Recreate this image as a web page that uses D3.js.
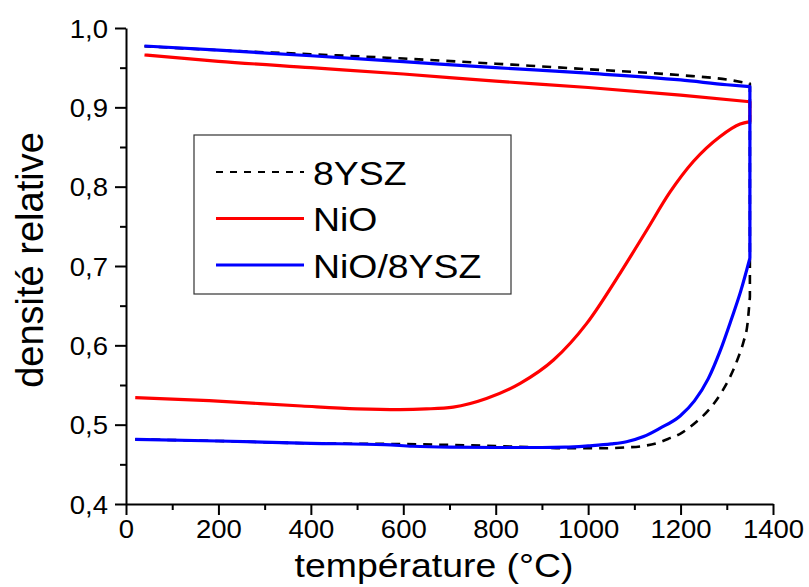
<!DOCTYPE html>
<html><head><meta charset="utf-8">
<script src="https://cdn.jsdelivr.net/npm/d3@7"></script>
<style>
body{margin:0;background:#fff;}
text{font-family:"Liberation Sans",Arial,sans-serif;fill:#000;}
</style></head>
<body><svg id="chart" width="809" height="587"></svg>
<script>
// ---- data ----
const seriesNames = ["8YSZ", "NiO", "NiO/8YSZ"];
const seriesColors = ["#000000", "#ff0000", "#0000ff"];
const xTicks = [0, 200, 400, 600, 800, 1000, 1200, 1400];
const yTicks = [0.4, 0.5, 0.6, 0.7, 0.8, 0.9, 1.0];

// 8YSZ (heating, hold at 1350, cooling)
const yszT = [20, 200, 400, 600, 700, 800, 900, 950, 1030, 1080, 1119, 1150, 1177, 1199, 1235, 1264, 1290, 1307, 1325, 1336, 1345, 1350, 1350, 1350, 1300, 1200, 1000, 800, 600, 400, 200, 40];
const yszD = [0.4815, 0.4794, 0.4765, 0.4755, 0.4745, 0.4730, 0.4712, 0.4703, 0.4702, 0.4712, 0.4731, 0.4770, 0.4830, 0.4885, 0.5040, 0.5206, 0.5420, 0.5600, 0.5850, 0.6040, 0.6280, 0.6610, 0.8000, 0.9300, 0.9350, 0.9405, 0.9480, 0.9550, 0.9615, 0.9670, 0.9720, 0.9770];

// NiO
const nioT = [20, 180, 380, 500, 593, 650, 708, 780, 853, 925, 997, 1069, 1127, 1177, 1228, 1285, 1329, 1350, 1350, 1350, 1200, 1000, 800, 600, 400, 200, 40];
const nioD = [0.5340, 0.5302, 0.5235, 0.5200, 0.5190, 0.5198, 0.5222, 0.5330, 0.5521, 0.5815, 0.6277, 0.6908, 0.7454, 0.7930, 0.8320, 0.8630, 0.8790, 0.8820, 0.8950, 0.9070, 0.9155, 0.9250, 0.9330, 0.9420, 0.9500, 0.9580, 0.9660];

// NiO/8YSZ
const mixT = [20, 200, 400, 560, 620, 700, 800, 900, 950, 1000, 1050, 1083, 1120, 1155, 1199, 1230, 1260, 1285, 1310, 1330, 1350, 1350, 1350, 1300, 1200, 1000, 800, 600, 400, 200, 40];
const mixD = [0.4815, 0.4794, 0.4765, 0.4748, 0.4728, 0.4716, 0.4712, 0.4712, 0.4716, 0.4733, 0.4757, 0.4785, 0.4850, 0.4954, 0.5110, 0.5300, 0.5580, 0.5920, 0.6330, 0.6680, 0.7100, 0.8200, 0.9260, 0.9285, 0.9345, 0.9430, 0.9500, 0.9575, 0.9650, 0.9720, 0.9773];

const series = [
  {name: seriesNames[0], T: yszT, D: yszD, color: seriesColors[0], dash: "9,7"},
  {name: seriesNames[1], T: nioT, D: nioD, color: seriesColors[1], dash: null},
  {name: seriesNames[2], T: mixT, D: mixD, color: seriesColors[2], dash: null}
];

// ---- layout ----
const svg = d3.select("#chart");
const x = d3.scaleLinear().domain([0, 1400]).range([126, 773]);
const y = d3.scaleLinear().domain([0.4, 1.0]).range([504, 28]);
const fmt = d => d3.format(".1f")(d).replace(".", ",");
const SX = 1.1;

// minor ticks
svg.append("g").attr("transform", "translate(0,504)")
  .call(d3.axisBottom(x).tickValues(d3.range(100, 1400, 200)).tickSize(6).tickFormat(""))
  .call(g => g.select(".domain").remove())
  .selectAll("line").attr("stroke-width", 2);
svg.append("g").attr("transform", "translate(126,0)")
  .call(d3.axisLeft(y).tickValues([0.45, 0.55, 0.65, 0.75, 0.85, 0.95]).tickSize(6).tickFormat(""))
  .call(g => g.select(".domain").remove())
  .selectAll("line").attr("stroke-width", 2);

// major axes
const gx = svg.append("g").attr("transform", "translate(0,504)")
  .call(d3.axisBottom(x).tickValues(xTicks).tickSize(11).tickSizeOuter(0).tickFormat(d3.format("d")));
gx.select(".domain").attr("stroke-width", 2);
gx.selectAll("line").attr("stroke-width", 2);
gx.selectAll("text").attr("font-size", 25).attr("y", 0).attr("dy", 0)
  .attr("transform", "translate(0,34) scale(" + SX + ",1)");

const gy = svg.append("g").attr("transform", "translate(126,0)")
  .call(d3.axisLeft(y).tickValues(yTicks).tickSize(11).tickSizeOuter(0).tickFormat(fmt));
gy.select(".domain").attr("stroke-width", 2);
gy.selectAll("line").attr("stroke-width", 2);
gy.selectAll("text").attr("font-size", 25).attr("x", 0).attr("dy", 0)
  .attr("transform", "translate(-18,9) scale(" + SX + ",1)");
svg.selectAll(".tick text").attr("font-family", "Liberation Sans, Arial, sans-serif").attr("fill", "#000");

// lines: heating branch (monotone), hold segment (straight), cooling branch (monotone)
const smooth = d3.line().curve(d3.curveMonotoneX).x(d => x(d[0])).y(d => y(d[1]));
function buildPath(T, D) {
  const pts = T.map((t, i) => [t, D[i]]);
  const maxT = d3.max(T);
  const first = T.indexOf(maxT), last = T.lastIndexOf(maxT);
  const heat = pts.slice(0, first + 1);
  const hold = pts.slice(first, last + 1);
  const cool = pts.slice(last);
  let d = smooth(heat);
  d += hold.slice(1).map(p => "L" + x(p[0]) + "," + y(p[1])).join("");
  d += smooth(cool).replace(/^M[^A-Za-z]*/, "");
  return d;
}
series.forEach(s => {
  svg.append("path")
    .attr("d", buildPath(s.T, s.D))
    .attr("fill", "none")
    .attr("stroke", s.color)
    .attr("stroke-width", s.dash ? 2.6 : 3.2)
    .attr("stroke-dasharray", s.dash)
    .attr("stroke-linejoin", "round");
});

// legend
const lg = svg.append("g");
lg.append("rect").attr("x", 194).attr("y", 135).attr("width", 317).attr("height", 159)
  .attr("fill", "#fff").attr("stroke", "#333").attr("stroke-width", 1.2);
series.forEach((s, i) => {
  const cy = 172 + i * 46.5;
  lg.append("line").attr("x1", 216).attr("x2", 304).attr("y1", cy).attr("y2", cy)
    .attr("stroke", s.color).attr("stroke-width", s.dash ? 1.8 : 3.2)
    .attr("stroke-dasharray", s.dash ? "7,7" : null);
  lg.append("text").attr("transform", `translate(313,${cy + 12.5}) scale(${SX},1)`)
    .attr("font-size", 34).text(s.name);
});

// axis titles
svg.append("text").attr("transform", `translate(434,577) scale(${SX},1)`)
  .attr("text-anchor", "middle").attr("font-size", 34).text("température (°C)");
svg.append("text").attr("transform", "translate(43,260) rotate(-90)")
  .attr("text-anchor", "middle").attr("font-size", 38).text("densité relative");
</script></body></html>
